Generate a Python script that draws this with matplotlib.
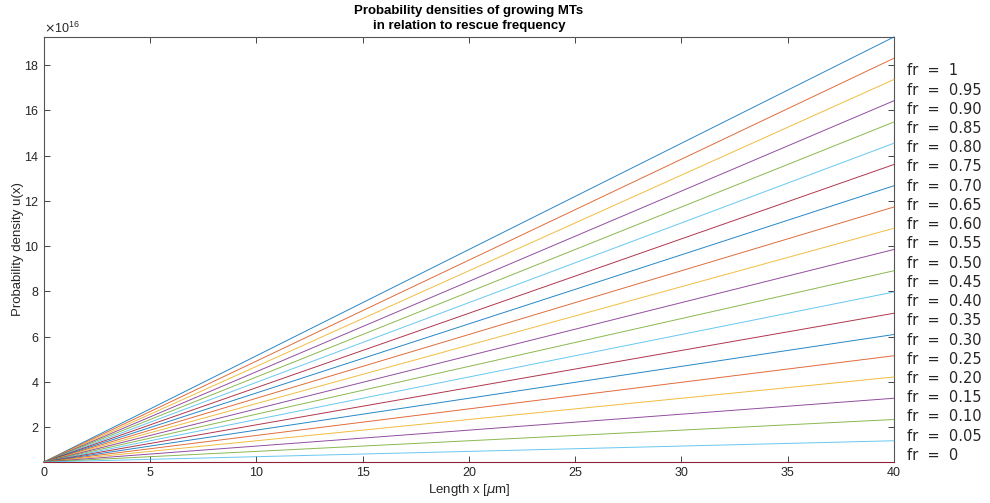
import matplotlib
matplotlib.use("Agg")
import matplotlib.pyplot as plt
from matplotlib.ticker import ScalarFormatter

plt.rcParams['font.family'] = ['Liberation Sans', 'DejaVu Sans']

# rescue frequencies, plotted from fr = 1 down to fr = 0
fr_labels = ['1', '0.95', '0.90', '0.85', '0.80', '0.75', '0.70', '0.65', '0.60',
             '0.55', '0.50', '0.45', '0.40', '0.35', '0.30', '0.25', '0.20',
             '0.15', '0.10', '0.05', '0']
x_ends = [0, 40]
u_start = 0.45e16
u_end = [19.25e16, 18.31e16, 17.37e16, 16.43e16, 15.49e16, 14.55e16, 13.61e16,
         12.67e16, 11.73e16, 10.79e16, 9.85e16, 8.91e16, 7.97e16, 7.03e16,
         6.09e16, 5.15e16, 4.21e16, 3.27e16, 2.33e16, 1.39e16, 0.45e16]

matlab_colors = ['#0072BD', '#D95319', '#EDB120', '#7E2F8E',
                 '#77AC30', '#4DBEEE', '#A2142F']

fig = plt.figure(figsize=(9.9, 5.03), dpi=100)
ax = fig.add_axes([0.0444, 0.0815, 0.8586, 0.845])

for i, (lab, ue) in enumerate(zip(fr_labels, u_end)):
    ax.plot(x_ends, [u_start, ue], color=matlab_colors[i % 7], lw=0.7,
            alpha=0.85, label='fr  =  ' + lab, zorder=3, clip_on=False)

ax.set_xlim(0, 40)
ax.set_ylim(u_start, max(u_end))
ax.set_xticks(range(0, 41, 5))
ax.set_yticks([v * 1e16 for v in range(2, 19, 2)])
fmt = ScalarFormatter(useMathText=True)
fmt.set_powerlimits((16, 16))
ax.yaxis.set_major_formatter(fmt)
ax.yaxis.get_offset_text().set_fontsize(9)
ax.yaxis.get_offset_text().set_color('#262626')

ax.tick_params(direction='in', top=True, right=True, labelsize=9,
               colors='#262626', length=4, width=0.6)
for s in ax.spines.values():
    s.set_color('#555555')
    s.set_linewidth(0.8)

ax.set_title('Probability densities of growing MTs\nin relation to rescue frequency',
             fontsize=9.5, fontweight='bold', pad=6, linespacing=1.3)
ax.set_xlabel(r'Length x [$\mu$m]', fontsize=9.5, labelpad=2, color='#262626')
ax.set_ylabel('Probability density u(x)', fontsize=9.5, labelpad=0, color='#262626')

leg = ax.legend(loc='upper left', bbox_to_anchor=(1.0, 0.962), frameon=False,
                handlelength=0, handletextpad=0.2, fontsize=10.5,
                labelspacing=0.29, borderaxespad=0.3)
for h in leg.legend_handles:
    h.set_visible(False)
for t in leg.get_texts():
    t.set_color('#262626')
    t.set_family(['DejaVu Sans'])

fig.savefig('out.png', dpi=100)
